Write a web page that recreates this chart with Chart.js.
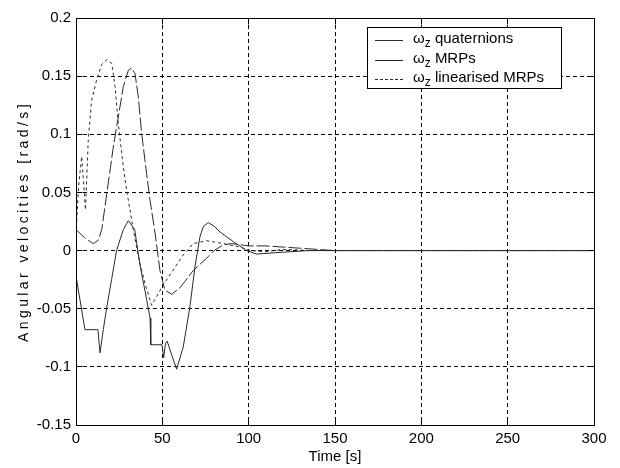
<!DOCTYPE html>
<html><head><meta charset="utf-8">
<script src="https://cdn.jsdelivr.net/npm/chart.js@4"></script>
<style>html,body{margin:0;padding:0;background:#fff;} canvas{display:block;}</style>
</head><body>
<canvas id="c" width="620" height="468"></canvas>
<script>
// ---- data ----
const xTicks = [0, 50, 100, 150, 200, 250, 300];
const xTickLabels = ['0', '50', '100', '150', '200', '250', '300'];
const yTicks = [-0.15, -0.1, -0.05, 0, 0.05, 0.1, 0.15, 0.2];
const yTickLabels = ['-0.15', '-0.1', '-0.05', '0', '0.05', '0.1', '0.15', '0.2'];
const seriesNames = ['quaternions', 'MRPs', 'linearised MRPs'];
const xTitle = 'Time [s]';
const yTitle = 'Angular velocities [rad/s]';

const quatTime = [0, 5.2, 12.7, 13.9, 15.8, 17.7, 20.6, 23.5, 27.4, 30.3, 34, 37, 40.9, 42.9, 43.3, 49.8, 50.8, 51.8, 52.8, 55.5, 58.3, 62.1, 66, 68.9, 71.8, 73.7, 76.6, 80, 83.4, 91.1, 98.8, 104.6, 114, 124, 135, 150, 300];
const quatValues = [-0.022, -0.068, -0.068, -0.088, -0.068, -0.05, -0.025, 0, 0.018, 0.0257, 0.018, -0.012, -0.042, -0.058, -0.081, -0.081, -0.092, -0.08, -0.078, -0.09, -0.102, -0.083, -0.048, -0.014, 0.012, 0.0205, 0.024, 0.021, 0.016, 0.0077, 0, -0.003, -0.002, -0.001, 0, 0, 0];

const mrpTime = [0, 5, 10, 13, 14.9, 18.7, 21.6, 24.5, 27.4, 30.3, 32.2, 34.2, 36.1, 38, 40.9, 42.9, 45.8, 48.6, 51.5, 55.4, 60.2, 68, 75.7, 80, 85.3, 90, 95, 100, 110, 120, 130, 140, 150, 300];
const mrpValues = [0.018, 0.011, 0.006, 0.009, 0.018, 0.058, 0.089, 0.115, 0.141, 0.155, 0.157, 0.152, 0.132, 0.101, 0.066, 0.043, 0.015, -0.017, -0.034, -0.0376, -0.032, -0.017, -0.0065, 0, 0.005, 0.006, 0.005, 0.004, 0.004, 0.003, 0.002, 0.001, 0, 0];

const linTime = [0, 1.5, 3.3, 5.5, 7.1, 9, 12, 14.9, 17.8, 20.7, 22.6, 24.5, 27.4, 29.3, 30.3, 33.2, 36.1, 39.9, 43.8, 50.5, 56.3, 62.1, 67.9, 75.7, 85.3, 95, 100.8, 110, 120, 135, 150, 300];
const linValues = [0.015, 0.055, 0.081, 0.035, 0.095, 0.129, 0.147, 0.16, 0.164, 0.161, 0.141, 0.109, 0.072, 0.052, 0.0435, 0.018, -0.005, -0.028, -0.047, -0.0296, -0.0167, -0.0038, 0.006, 0.0085, 0.006, 0.003, 0, -0.001, 0.001, 0, 0, 0];

// ---- styling ----
const FONT = "'Liberation Sans', Arial, sans-serif";
const LINE = '#2a2a2a';
const pairs = (t, v) => t.map((x, i) => ({x: x, y: v[i]}));
const dashes = [[], [13, 3], [3, 3]];
const legendSample = [[], [], [3, 2]];

const framePlugin = {
  id: 'frame',
  beforeDraw(chart) {
    const ys = chart.scales.y;
    if (ys && !ys._lsPatched) {
      const orig = ys.drawTitle;
      ys.drawTitle = function () {
        const c = this.ctx; c.save(); c.letterSpacing = '3.4px'; orig.apply(this, arguments); c.restore();
      };
      ys._lsPatched = true;
    }
  },
  afterDatasetsDraw(chart) {
    const ctx = chart.ctx;
    const {left, right, top, bottom} = chart.chartArea;
    const a = p => Math.round(p - 0.5) + 0.5;
    ctx.save();
    ctx.strokeStyle = '#000'; ctx.lineWidth = 1; ctx.setLineDash([]);
    ctx.strokeRect(a(left), a(top), a(right) - a(left), a(bottom) - a(top));
    const xs = chart.scales.x, ys = chart.scales.y;
    ctx.beginPath();
    xTicks.forEach(v => {
      const p = a(xs.getPixelForValue(v));
      ctx.moveTo(p, a(bottom)); ctx.lineTo(p, a(bottom) - 6);
      ctx.moveTo(p, a(top)); ctx.lineTo(p, a(top) + 6);
    });
    yTicks.forEach(v => {
      const p = a(ys.getPixelForValue(v));
      ctx.moveTo(a(left), p); ctx.lineTo(a(left) + 6, p);
      ctx.moveTo(a(right), p); ctx.lineTo(a(right) - 6, p);
    });
    ctx.stroke();
    ctx.restore();
  },
  afterDraw(chart) {
    const ctx = chart.ctx;
    const bx = 367.5, by = 27.5, bw = 194, bh = 61;
    ctx.save();
    ctx.fillStyle = '#fff'; ctx.fillRect(bx, by, bw, bh);
    ctx.strokeStyle = '#000'; ctx.lineWidth = 1; ctx.setLineDash([]);
    ctx.strokeRect(bx, by, bw, bh);
    const rows = [40, 59.5, 79];
    seriesNames.forEach((name, i) => {
      const y = Math.round(rows[i]) + 0.5;
      ctx.strokeStyle = LINE; ctx.setLineDash(legendSample[i]);
      ctx.beginPath(); ctx.moveTo(375, y); ctx.lineTo(403, y); ctx.stroke();
      ctx.setLineDash([]);
      ctx.fillStyle = '#000'; ctx.textBaseline = 'middle'; ctx.textAlign = 'left';
      let x = 413;
      ctx.font = '15px ' + FONT;
      ctx.fillText('\u03c9', x, rows[i] - 1); x += ctx.measureText('\u03c9').width;
      ctx.font = '12px ' + FONT;
      ctx.fillText('z', x, rows[i] + 4); x += ctx.measureText('z').width;
      ctx.font = '15px ' + FONT;
      ctx.fillText(' ' + name, x, rows[i] - 1);
    });
    ctx.restore();
  }
};

new Chart(document.getElementById('c'), {
  type: 'line',
  data: {
    datasets: [
      {label: '\u03c9z ' + seriesNames[0], data: pairs(quatTime, quatValues)},
      {label: '\u03c9z ' + seriesNames[1], data: pairs(mrpTime, mrpValues)},
      {label: '\u03c9z ' + seriesNames[2], data: pairs(linTime, linValues)}
    ].map((d, i) => Object.assign(d, {
      borderColor: LINE, borderWidth: 1, borderDash: dashes[i], pointRadius: 0,
      tension: 0, fill: false
    }))
  },
  options: {
    responsive: false, animation: false, devicePixelRatio: 1,
    layout: {padding: {left: 0, top: 18, right: 26, bottom: 0}},
    plugins: {legend: {display: false}, tooltip: {enabled: false}},
    scales: {
      x: {
        type: 'linear', min: 0, max: 300,
        afterBuildTicks: s => { s.ticks = xTicks.map(v => ({value: v})); },
        afterFit: s => { s.height = 43; },
        ticks: {callback: (v, i) => xTickLabels[i], color: '#000', padding: 5, maxRotation: 0,
                font: {family: FONT, size: 15}},
        grid: {color: '#000', lineWidth: 1, drawTicks: false},
        border: {display: false, dash: [4, 3]},
        title: {display: true, text: xTitle, color: '#000', font: {family: FONT, size: 15},
                padding: {top: 0, bottom: 2}}
      },
      y: {
        type: 'linear', min: -0.15, max: 0.2,
        afterBuildTicks: s => { s.ticks = yTicks.map(v => ({value: v})); },
        afterFit: s => { s.width = 76; },
        ticks: {callback: (v, i) => yTickLabels[i], color: '#000', padding: 5,
                font: {family: FONT, size: 15}},
        grid: {color: '#000', lineWidth: 1, drawTicks: false},
        border: {display: false, dash: [4, 3]},
        title: {display: true, text: yTitle, color: '#000', font: {family: FONT, size: 14},
                padding: {top: 16, bottom: 0}}
      }
    }
  },
  plugins: [framePlugin]
});
</script>
</body></html>
